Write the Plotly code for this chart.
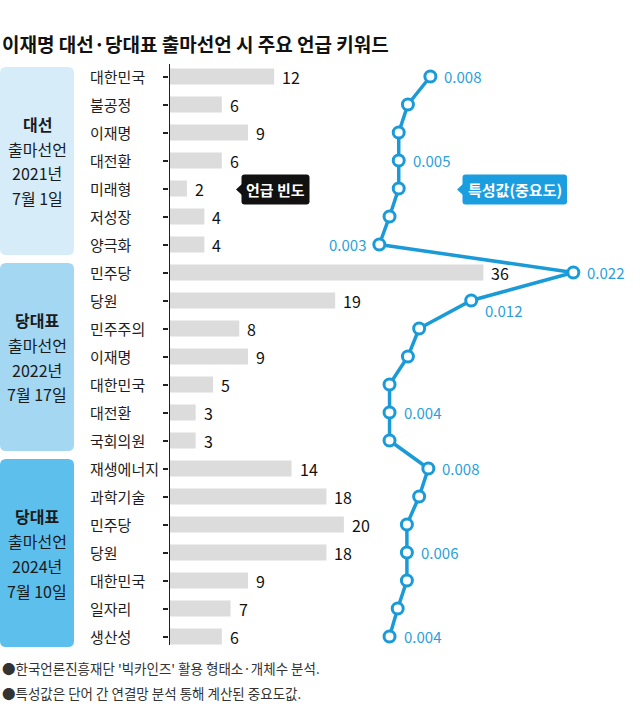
import plotly.graph_objects as go

# keywords, top to bottom
keywords = ["대한민국", "불공정", "이재명", "대전환", "미래형", "저성장", "양극화",
            "민주당", "당원", "민주주의", "이재명", "대한민국", "대전환", "국회의원",
            "재생에너지", "과학기술", "민주당", "당원", "대한민국", "일자리", "생산성"]
counts = [12, 6, 9, 6, 2, 4, 4,
          36, 19, 8, 9, 5, 3, 3,
          14, 18, 20, 18, 9, 7, 6]
importance = [0.0080, 0.0058, 0.0049, 0.0049, 0.0049, 0.0040, 0.0030,
              0.0220, 0.0120, 0.0069, 0.0058, 0.0040, 0.0040, 0.0040,
              0.0078, 0.0069, 0.0057, 0.0057, 0.0057, 0.0048, 0.0040]
importance_labels = ["0.008", "", "", "0.005", "", "", "0.003",
                     "0.022", "0.012", "", "", "", "0.004", "",
                     "0.008", "", "", "0.006", "", "", "0.004"]
groups = [["대선", "출마선언", "2021년", "7월 1일"],
          ["당대표", "출마선언", "2022년", "7월 17일"],
          ["당대표", "출마선언", "2024년", "7월 10일"]]
group_colors = ["#d6edf9", "#a3d7f2", "#5dbfec"]

title = "이재명 대선·당대표 출마선언 시 주요 언급 키워드"
notes = ["●한국언론진흥재단 '빅카인즈' 활용 형태소·개체수 분석.",
         "●특성값은 단어 간 연결망 분석 통해 계산된 중요도값."]

W, H = 640, 708
FONT = "Noto Sans CJK KR"
BLUE = "#1b9ad8"
rows = list(range(len(keywords)))


def px(x):
    return x / W


def py(y):
    return 1 - y / H


def rounded(x0, y0, x1, y1, r):
    # rounded rectangle in pixel coords -> paper path
    pts = (f"M {px(x0 + r)} {py(y0)} L {px(x1 - r)} {py(y0)} "
           f"Q {px(x1)} {py(y0)} {px(x1)} {py(y0 + r)} L {px(x1)} {py(y1 - r)} "
           f"Q {px(x1)} {py(y1)} {px(x1 - r)} {py(y1)} L {px(x0 + r)} {py(y1)} "
           f"Q {px(x0)} {py(y1)} {px(x0)} {py(y1 - r)} L {px(x0)} {py(y0 + r)} "
           f"Q {px(x0)} {py(y0)} {px(x0 + r)} {py(y0)} Z")
    return pts


fig = go.Figure()
fig.add_trace(go.Bar(y=rows, x=counts, orientation="h", width=0.57,
                     marker=dict(color="#dcdcdc", line=dict(width=0)),
                     hoverinfo="skip"))
fig.add_trace(go.Scatter(y=rows, x=importance, xaxis="x2", mode="lines+markers",
                         line=dict(color=BLUE, width=3.5),
                         marker=dict(size=11, color="white", line=dict(color=BLUE, width=3)),
                         cliponaxis=False, hoverinfo="skip"))

ax0 = 169.5
fig.update_layout(
    width=W, height=H, autosize=False, showlegend=False,
    margin=dict(l=0, r=0, t=0, b=0),
    paper_bgcolor="white", plot_bgcolor="rgba(0,0,0,0)",
    font=dict(family=FONT, color="#222"),
    xaxis=dict(domain=[px(ax0), 1], range=[0, (W - ax0) / 8.72],
               showgrid=False, zeroline=False, showticklabels=False, fixedrange=True),
    xaxis2=dict(overlaying="x", anchor="y",
                range=[(ax0 - 348.7) / 10210, (W - 348.7) / 10210],
                showgrid=False, zeroline=False, showticklabels=False),
    yaxis=dict(domain=[py(645), py(64)],
               range=[(645 - 76.5) / 28, (64 - 76.5) / 28],
               tickvals=rows, showticklabels=False, ticks="outside", ticklen=5,
               tickcolor="#222", tickwidth=1.5, showline=True, linecolor="#222",
               linewidth=1.2, showgrid=False, zeroline=False),
)

shapes = []
ann = []

# group panels
for g, (lines, col) in enumerate(zip(groups, group_colors)):
    top = 67 + g * 196
    shapes.append(dict(type="path", xref="paper", yref="paper",
                       path=rounded(0, top, 74, top + 188, 6),
                       fillcolor=col, line=dict(width=0), layer="below"))
    cy = top + 94
    for k, t in enumerate(lines):
        txt = f"<b>{t}</b>" if k == 0 else t
        ann.append(dict(xref="paper", yref="paper", x=px(37), y=py(cy - 37.5 + 25 * k),
                        text=txt, showarrow=False, xanchor="center", yanchor="middle",
                        font=dict(size=16, color="#1a1a1a")))

# keyword labels and counts
for i, (kw, c) in enumerate(zip(keywords, counts)):
    ann.append(dict(xref="paper", yref="y", x=px(88), y=i, text=kw, showarrow=False,
                    xanchor="left", yanchor="middle", font=dict(size=15, color="#1e1e1e")))
    ann.append(dict(xref="x", yref="y", x=c, y=i, text=str(c), showarrow=False,
                    xanchor="left", yanchor="middle", xshift=6,
                    font=dict(size=16, color="#111")))

# importance labels
for i, (v, lab) in enumerate(zip(importance, importance_labels)):
    if not lab:
        continue
    a = dict(xref="x2", yref="y", x=v, y=i, text=lab, showarrow=False,
             yanchor="middle", font=dict(size=15, color="#2a9fdb"))
    if i == 6:
        a.update(xanchor="right", xshift=-11)
    elif i == 8:
        a.update(xanchor="left", xshift=12, yshift=-10)
    else:
        a.update(xanchor="left", xshift=12)
    ann.append(a)

# callouts
for (x0, x1, col, txt) in [(241.5, 309.5, "#111111", "언급 빈도"),
                           (462.5, 567, "#1b9ee0", "특성값(중요도)")]:
    shapes.append(dict(type="path", xref="paper", yref="paper",
                       path=rounded(x0, 174.5, x1, 204.5, 3), fillcolor=col, line=dict(width=0)))
    shapes.append(dict(type="path", xref="paper", yref="paper",
                       path=f"M {px(x0 + 1)} {py(183.5)} L {px(x0 - 5.5)} {py(189.5)} L {px(x0 + 1)} {py(195.5)} Z",
                       fillcolor=col, line=dict(width=0)))
    ann.append(dict(xref="paper", yref="paper", x=px((x0 + x1) / 2), y=py(189.5),
                    text=f"<b>{txt}</b>", showarrow=False, xanchor="center", yanchor="middle",
                    font=dict(size=15, color="white")))

# title and notes
ann.append(dict(xref="paper", yref="paper", x=0, y=py(43), text=f"<b>{title}</b>",
                showarrow=False, xanchor="left", yanchor="middle",
                font=dict(size=19, color="#111")))
for k, n in enumerate(notes):
    ann.append(dict(xref="paper", yref="paper", x=0, y=py(668 + 25 * k), text=n,
                    showarrow=False, xanchor="left", yanchor="middle",
                    font=dict(size=13.5, color="#333")))

fig.update_layout(shapes=shapes, annotations=ann)
# page has a default body margin, drop it so the 640x708 figure fills the window
fig.write_html("out.html", config={"displayModeBar": False},
               post_script="document.body.style.margin='0';")
